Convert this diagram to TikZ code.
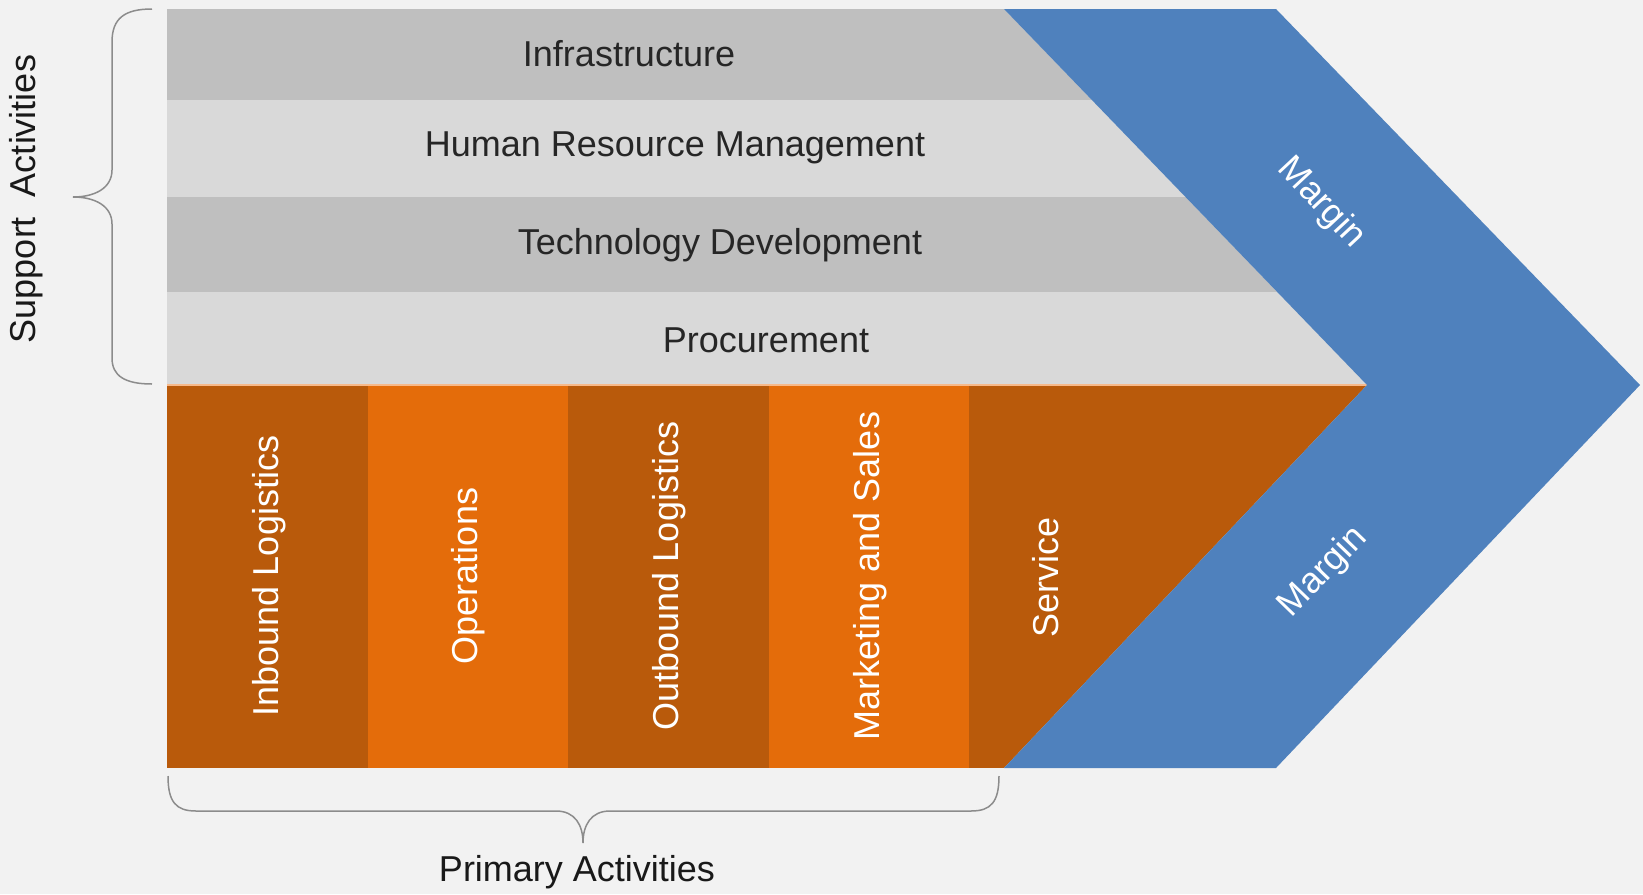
\documentclass[tikz,border=0pt]{standalone}
\usepackage{fontspec}
\setmainfont{Liberation Sans}
\definecolor{pagegrey}{HTML}{F2F2F2}
\definecolor{banddark}{HTML}{BFBFBF}
\definecolor{bandlight}{HTML}{D9D9D9}
\definecolor{rustorange}{HTML}{B95A0B}
\definecolor{brightorange}{HTML}{E46C0A}
\definecolor{peachline}{HTML}{F7B98A}
\definecolor{marginblue}{HTML}{4F81BD}
\definecolor{bracegrey}{HTML}{8C8C8C}
\definecolor{labeltext}{HTML}{262626}
\tikzset{
  bandlabel/.style={text=labeltext, font=\fontsize{36}{40}\selectfont},
  columnlabel/.style={text=white, rotate=90, font=\fontsize{36}{40}\selectfont},
  marginlabel/.style={text=white, font=\fontsize{36}{40}\selectfont},
  sidelabel/.style={text=black!90, font=\fontsize{36}{40}\selectfont},
  bracepath/.style={draw=bracegrey, line width=1.5pt}
}
\begin{document}
\begin{tikzpicture}[x=1pt, y=-1pt]
            \fill[pagegrey] (0,0) rectangle (1643,894);
            \useasboundingbox (0,0) rectangle (1643,894);

            % support activities
            \begin{scope}
              \clip (167,9) -- (1004,9) -- (1367,385) -- (167,385) -- cycle;
              \fill[banddark] (167,9) rectangle (1400,100);
              \fill[bandlight] (167,100) rectangle (1400,197);
              \fill[banddark] (167,197) rectangle (1400,292);
              \fill[bandlight] (167,292) rectangle (1400,385);
            \end{scope}

            % primary activities
            \begin{scope}
              \clip (167,385) -- (1367,385) -- (1004,768) -- (167,768) -- cycle;
              \fill[rustorange] (167,385) rectangle (368,768);
              \fill[brightorange] (368,385) rectangle (568,768);
              \fill[rustorange] (568,385) rectangle (769,768);
              \fill[brightorange] (769,385) rectangle (969,768);
              \fill[rustorange] (969,385) rectangle (1400,768);
            \end{scope}
            \draw[peachline, line width=1.5pt] (167,385) -- (1367,385);

            % margin chevron
            \fill[marginblue] (1004,9) -- (1276,9) -- (1640,385) -- (1276,768)
                              -- (1004,768) -- (1367,385) -- cycle;

            \node[bandlabel] (infra) at (629,54) {Infrastructure};
            \node[bandlabel] (hrm) at (675,148) {Human Resource Management};
            \node[bandlabel] (techdev) at (720,245) {Technology Development};
            \node[bandlabel] (procure) at (766,340) {Procurement};

            \node[columnlabel] (inbound) at (269,576) {Inbound Logistics};
            \node[columnlabel] (operations) at (468,576) {Operations};
            \node[columnlabel] (outbound) at (669,576) {Outbound Logistics};
            \node[columnlabel] (marketing) at (870,576) {Marketing and Sales};
            \node[columnlabel] (service) at (1046,577) {Service};

            \node[marginlabel, rotate=-47] (margintop) at (1321,203) {Margin};
            \node[marginlabel, rotate=46] (marginbottom) at (1323,572) {Margin};

            % braces
            \draw[bracepath] (152,9) .. controls (125,9) and (112,18) .. (112,42)
                -- (112,170) .. controls (112,188) and (95,197) .. (73,197)
                .. controls (95,197) and (112,206) .. (112,224)
                -- (112,358) .. controls (112,376) and (125,384) .. (152,384);
            \draw[bracepath] (168,776) .. controls (168,802) and (176,811) .. (196,811)
                -- (556,811) .. controls (575,811) and (583,825) .. (583,843)
                .. controls (583,825) and (591,811) .. (610,811)
                -- (971,811) .. controls (991,811) and (999,802) .. (999,776);

            \node[sidelabel, rotate=90] (support) at (26,199) {Support~ Activities};
            \node[sidelabel] (primary) at (577,872) {Primary Activities};
        \end{tikzpicture}
\end{document}
